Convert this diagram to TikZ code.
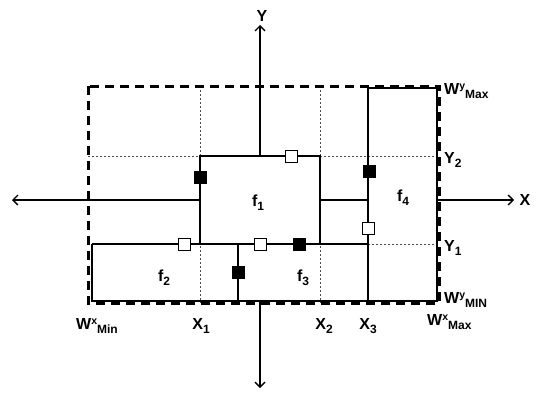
\documentclass[tikz,border=0pt]{standalone}
\usepackage{fontspec}
\setmainfont{Liberation Sans}
\usetikzlibrary{arrows.meta}
\newcommand\lsb[1]{\raisebox{-0.45ex}{\fontsize{12}{13}\selectfont #1}}
\newcommand\lsp[1]{\raisebox{0.55ex}{\fontsize{10.5}{11}\selectfont #1}}
\begin{document}
\begin{tikzpicture}[x=1pt,y=-1pt,
  solidln/.style={line width=1.6pt},
  border/.style={line width=3pt, dash pattern=on 9pt off 6pt},
  gridln/.style={line width=0.7pt, dash pattern=on 2pt off 2pt, black!70},
  axis/.style={line width=1.4pt,-{Straight Barb[length=5pt,width=10pt,line width=1.4pt]}},
  wsq/.style={draw, line width=1pt, fill=white, minimum size=12pt, inner sep=0pt},
  bsq/.style={draw, line width=1pt, fill=black, minimum size=12pt, inner sep=0pt},
  lbl/.style={font=\fontsize{16}{18}\selectfont\bfseries, inner sep=1pt},
]
\useasboundingbox (0,0) rectangle (537,396);
% grid
\draw[gridln] (200,86) -- (200,303);
\draw[gridln] (320,86) -- (320,303);
\draw[gridln] (88,156) -- (439,156);
\draw[gridln] (368,244) -- (439,244);
% border
\draw[border] (88,86) rectangle (439,303);
% frames
\draw[solidln] (200,156) rectangle (320,244);
\draw[solidln] (92,244) -- (368,244);
\draw[solidln] (92,244) -- (92,301) -- (437,301) -- (437,88) -- (368,88) -- (368,301);
\draw[solidln] (238,244) -- (238,301);
\draw[solidln] (320,200) -- (368,200);
% axes
\coordinate (ytop) at (260,25);
\coordinate (ybot) at (260,388);
\coordinate (xl) at (12,200);
\coordinate (xr) at (514,200);
\draw[axis] (260,156) -- (ytop);
\draw[axis] (260,301) -- (ybot);
\draw[axis] (200,200) -- (xl);
\draw[axis] (437,200) -- (xr);
% squares
\node[bsq] (b1) at (200,177) {};
\node[wsq] (w1) at (291,156) {};
\node[bsq] (b2) at (369,171) {};
\node[wsq] (w2) at (368,228) {};
\node[wsq] (w3) at (184,244) {};
\node[wsq] (w4) at (260,244) {};
\node[bsq] (b3) at (299,244) {};
\node[bsq] (b4) at (238,272) {};
% labels
\node[lbl] (ly) at (262,16) {Y};
\node[lbl] (lx) at (525,200) {X};
\node[lbl] (f1) at (258,203) {f\lsb{1}};
\node[lbl] (f2) at (164,278) {f\lsb{2}};
\node[lbl] (f3) at (303,278) {f\lsb{3}};
\node[lbl] (f4) at (403,198) {f\lsb{4}};
\node[lbl,anchor=west] (wymax) at (443,91) {W\lsp{y}\lsb{Max}};
\node[lbl,anchor=west] (y2) at (443,160) {Y\lsb{2}};
\node[lbl,anchor=west] (y1) at (443,248) {Y\lsb{1}};
\node[lbl,anchor=west] (wymin) at (443,300) {W\lsp{y}\lsb{MIN}};
\node[lbl,anchor=west] (wxmin) at (75,326) {W\lsp{x}\lsb{Min}};
\node[lbl] (x1) at (201,326) {X\lsb{1}};
\node[lbl] (x2) at (324,326) {X\lsb{2}};
\node[lbl] (x3) at (368,326) {X\lsb{3}};
\node[lbl,anchor=west] (wxmax) at (426,322) {W\lsp{x}\lsb{Max}};
\end{tikzpicture}
\end{document}
